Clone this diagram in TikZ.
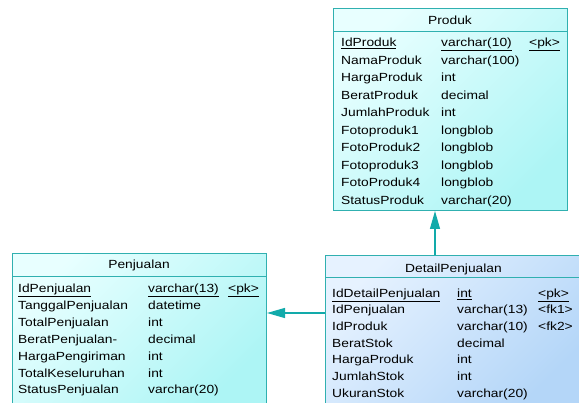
\documentclass[tikz,border=0pt]{standalone}
\usepackage{fontspec}
\setmainfont{Liberation Sans}
\usetikzlibrary{arrows.meta}
\newcommand{\sx}[1]{\scalebox{1.17}[1]{#1}}
\definecolor{edge}{HTML}{30B0B0}
\definecolor{conn}{HTML}{12AAAA}
\definecolor{cyanA}{HTML}{E8FFFF}
\definecolor{cyanB}{HTML}{ADF5F5}
\definecolor{blueA}{HTML}{E6F2FF}
\definecolor{blueB}{HTML}{B4D6F8}
\begin{document}
\begin{tikzpicture}[x=1pt,y=-1pt,
  tbl/.style={draw=edge,line width=1pt,rectangle,inner sep=0pt,anchor=north west},
  cyanfill/.style={top color=cyanA,bottom color=cyanB,shading angle=45},
  bluefill/.style={top color=blueA,bottom color=blueB,shading angle=45},
  txt/.style={anchor=base west,inner sep=0pt,font=\fontsize{11.8}{13}\selectfont},
  ttl/.style={anchor=base,inner sep=0pt,font=\fontsize{11.8}{13}\selectfont},
  connector/.style={draw=conn,line width=1.2pt,-{Triangle[length=18pt,width=10pt]}}]
\useasboundingbox (0,0) rectangle (579,403);
\clip (0,0) rectangle (579,403);
% Produk
\node[tbl,cyanfill,minimum width=234pt,minimum height=202pt] (prod) at (333,8) {};
\draw[edge,line width=1pt] (333,32) -- (567,32);
\node[ttl] (prodt) at (450,24.7) {\sx{Produk}};
\foreach [count=\i] \a/\b/\c in {\underline{IdProduk}/\underline{varchar(10)}/\underline{<pk>},
  NamaProduk/varchar(100)/{},HargaProduk/int/{},BeratProduk/decimal/{},JumlahProduk/int/{},
  Fotoproduk1/longblob/{},FotoProduk2/longblob/{},Fotoproduk3/longblob/{},FotoProduk4/longblob/{},
  StatusProduk/varchar(20)/{}}{
  \node[txt] (pa\i) at (341,{46.7+17.5*(\i-1)}) {\sx{\a}};
  \node[txt] (pb\i) at (441,{46.7+17.5*(\i-1)}) {\sx{\b}};
  \node[txt] (pc\i) at (529,{46.7+17.5*(\i-1)}) {\sx{\c}};
}
% Penjualan
\node[tbl,cyanfill,minimum width=254pt,minimum height=150pt] (pen) at (12,253) {};
\draw[edge,line width=1pt] (12,277) -- (266,277);
\node[ttl] (pent) at (139,268.3) {\sx{Penjualan}};
\foreach [count=\i] \a/\b/\c in {\underline{IdPenjualan}/\underline{varchar(13)}/\underline{<pk>},
  TanggalPenjualan/datetime/{},TotalPenjualan/int/{},BeratPenjualan-/decimal/{},
  HargaPengiriman/int/{},TotalKeseluruhan/int/{},StatusPenjualan/varchar(20)/{}}{
  \node[txt] (qa\i) at (18,{292.3+16.95*(\i-1)}) {\sx{\a}};
  \node[txt] (qb\i) at (148,{292.3+16.95*(\i-1)}) {\sx{\b}};
  \node[txt] (qc\i) at (228,{292.3+16.95*(\i-1)}) {\sx{\c}};
}
% DetailPenjualan
\node[tbl,bluefill,minimum width=258pt,minimum height=148pt] (det) at (325,255) {};
\draw[edge,line width=1pt] (325,278) -- (583,278);
\node[ttl] (dett) at (453.5,272.3) {\sx{DetailPenjualan}};
\foreach [count=\i] \a/\b/\c in {\underline{IdDetailPenjualan}/\underline{int}/\underline{<pk>},
  IdPenjualan/varchar(13)/<fk1>,IdProduk/varchar(10)/<fk2>,BeratStok/decimal/{},
  HargaProduk/int/{},JumlahStok/int/{},UkuranStok/varchar(20)/{}}{
  \node[txt] (da\i) at (332,{297.3+16.67*(\i-1)}) {\sx{\a}};
  \node[txt] (db\i) at (457,{297.3+16.67*(\i-1)}) {\sx{\b}};
  \node[txt] (dc\i) at (538,{297.3+16.67*(\i-1)}) {\sx{\c}};
}
% connectors
\coordinate (c1) at (325,313);
\coordinate (c2) at (435,255);
\draw[connector] (c1) -- (c1 -| pen.east);
\draw[connector] (c2) -- (c2 |- prod.south);
\end{tikzpicture}
\end{document}
